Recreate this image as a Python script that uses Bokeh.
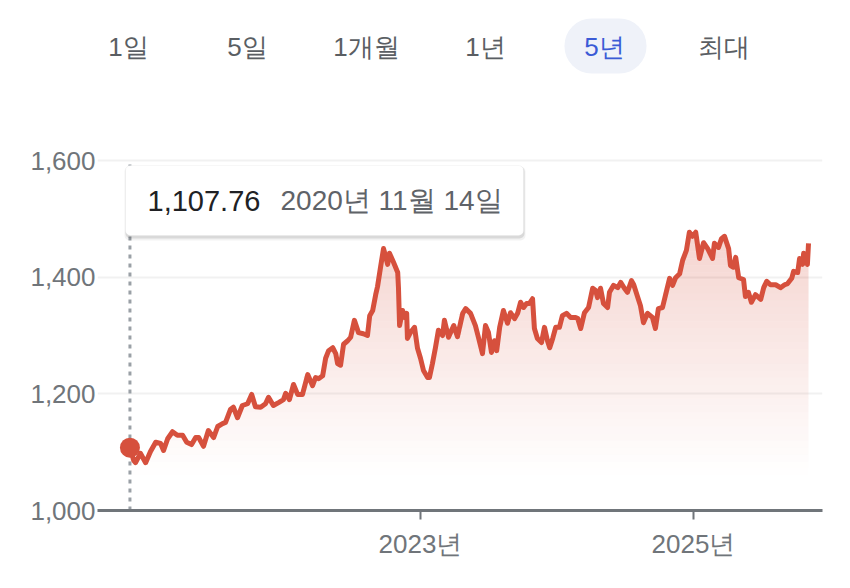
import numpy as np
import pandas as pd
from bokeh.plotting import figure
from bokeh.models import (Range1d, FixedTicker, NumeralTickFormatter,
                          DatetimeTickFormatter, Label, BoxAnnotation)
from bokeh.embed import file_html
from bokeh.resources import INLINE

# ---------------- data ----------------
tabs = ["1일", "5일", "1개월", "1년", "5년", "최대"]
active_tab = "5년"
y_ticks = [1000, 1200, 1400, 1600]
x_tick_dates = ["2023-01-01", "2025-01-01"]

d2020 = ["2020-11-14", "2020-11-24", "2020-11-29", "2020-12-12", "2020-12-26"]
v2020 = [1107.76, 1086, 1082, 1098, 1082]

d2021 = ["2021-01-08", "2021-01-22", "2021-02-04", "2021-02-12", "2021-02-23",
         "2021-03-08", "2021-03-21", "2021-04-04", "2021-04-15", "2021-04-28",
         "2021-05-09", "2021-05-17", "2021-05-30", "2021-06-12", "2021-06-26",
         "2021-07-07", "2021-07-20", "2021-07-28", "2021-08-10", "2021-08-18",
         "2021-08-29", "2021-09-11", "2021-09-25", "2021-10-06", "2021-10-16",
         "2021-10-30", "2021-11-12", "2021-11-20", "2021-12-03", "2021-12-17",
         "2021-12-30"]
v2021 = [1101, 1117, 1115, 1103, 1123,
         1135, 1129, 1129, 1117, 1113,
         1125, 1125, 1110, 1137, 1125,
         1144, 1149, 1151, 1173, 1177,
         1159, 1180, 1183, 1199, 1178,
         1177, 1183, 1194, 1180, 1185,
         1190]

d2022 = ["2022-01-05", "2022-01-15", "2022-01-26", "2022-02-06", "2022-02-19",
         "2022-03-05", "2022-03-18", "2022-03-26", "2022-04-03", "2022-04-14",
         "2022-04-22", "2022-04-30", "2022-05-11", "2022-05-19", "2022-05-24",
         "2022-06-01", "2022-06-09", "2022-06-20", "2022-06-28", "2022-07-08",
         "2022-07-19", "2022-08-01", "2022-08-12", "2022-08-18", "2022-08-26",
         "2022-09-03", "2022-09-08", "2022-09-16", "2022-09-24", "2022-10-05",
         "2022-10-10", "2022-10-21", "2022-11-01", "2022-11-03", "2022-11-06",
         "2022-11-14", "2022-11-19", "2022-11-25", "2022-11-27", "2022-12-05",
         "2022-12-16", "2022-12-24"]
v2022 = [1201, 1190, 1216, 1199, 1199,
         1233, 1214, 1228, 1226, 1231,
         1261, 1274, 1279, 1269, 1252,
         1249, 1285, 1291, 1297, 1326,
         1305, 1303, 1300, 1334, 1343,
         1370, 1384, 1417, 1449, 1422,
         1441, 1425, 1408, 1382, 1317,
         1343, 1331, 1338, 1295, 1305,
         1314, 1278]

d2023 = ["2023-01-01", "2023-01-09", "2023-01-20", "2023-01-25", "2023-02-02",
         "2023-02-10", "2023-02-18", "2023-03-01", "2023-03-06", "2023-03-17",
         "2023-03-31", "2023-04-10", "2023-04-24", "2023-05-02", "2023-05-15",
         "2023-05-28", "2023-06-05", "2023-06-16", "2023-06-24", "2023-07-02",
         "2023-07-10", "2023-07-18", "2023-07-24", "2023-08-01", "2023-08-11",
         "2023-08-22", "2023-08-30", "2023-09-10", "2023-09-18", "2023-09-26",
         "2023-10-04", "2023-10-12", "2023-10-20", "2023-10-28", "2023-11-02",
         "2023-11-10", "2023-11-21", "2023-11-29", "2023-12-07", "2023-12-13",
         "2023-12-21", "2023-12-29"]
v2023 = [1261, 1240, 1228, 1228, 1252,
         1279, 1309, 1300, 1326, 1297,
         1317, 1298, 1338, 1346, 1338,
         1317, 1297, 1269, 1317, 1305,
         1271, 1291, 1274, 1314, 1343,
         1321, 1339, 1329, 1338, 1357,
         1348, 1355, 1355, 1363, 1312,
         1295, 1288, 1314, 1291, 1279,
         1295, 1314]

d2024 = ["2024-01-08", "2024-01-16", "2024-01-27", "2024-02-07", "2024-02-20",
         "2024-02-26", "2024-03-05", "2024-03-15", "2024-03-26", "2024-04-06",
         "2024-04-14", "2024-04-19", "2024-04-27", "2024-05-05", "2024-05-16",
         "2024-05-21", "2024-06-01", "2024-06-12", "2024-06-20", "2024-06-30",
         "2024-07-08", "2024-07-19", "2024-07-25", "2024-08-04", "2024-08-12",
         "2024-08-20", "2024-08-31", "2024-09-13", "2024-09-21", "2024-09-29",
         "2024-10-10", "2024-10-21", "2024-10-29", "2024-11-06", "2024-11-14",
         "2024-11-25", "2024-12-03", "2024-12-13", "2024-12-21", "2024-12-29"]
v2024 = [1314, 1334, 1338, 1331, 1331,
         1329, 1312, 1339, 1348, 1381,
         1377, 1365, 1381, 1355, 1348,
         1374, 1386, 1382, 1391, 1381,
         1374, 1394, 1387, 1367, 1351,
         1322, 1338, 1331, 1312, 1346,
         1348, 1377, 1398, 1386, 1399,
         1406, 1429, 1446, 1477, 1470]

d2025 = ["2025-01-07", "2025-01-17", "2025-01-28", "2025-02-08", "2025-02-21",
         "2025-02-26", "2025-03-09", "2025-03-17", "2025-03-25", "2025-04-05",
         "2025-04-10", "2025-04-18", "2025-04-24", "2025-05-02", "2025-05-15",
         "2025-05-20", "2025-05-28", "2025-06-05", "2025-06-16", "2025-06-30",
         "2025-07-08", "2025-07-16", "2025-07-26", "2025-08-09", "2025-08-22",
         "2025-09-02", "2025-09-10", "2025-09-21", "2025-09-26", "2025-10-07",
         "2025-10-12", "2025-10-20", "2025-10-23", "2025-11-02", "2025-11-05"]
v2025 = [1477, 1432, 1459, 1449, 1432,
         1458, 1451, 1466, 1470, 1449,
         1420, 1417, 1434, 1399, 1396,
         1367, 1374, 1357, 1370, 1362,
         1382, 1393, 1387, 1387, 1382,
         1387, 1389, 1398, 1410, 1408,
         1432, 1422, 1441, 1422, 1458]

dates = pd.to_datetime(d2020 + d2021 + d2022 + d2023 + d2024 + d2025)
values = np.array(v2020 + v2021 + v2022 + v2023 + v2024 + v2025, dtype=float)

# ---------------- layout / style ----------------
RED = "#d6503d"
GRAY_TXT = "#5a5e63"
AXIS_GRAY = "#70757a"
FONT = "Liberation Sans"

W, H = 834, 572
FL, FR, FT, FB = 97, 822, 0, 510          # frame edges in px
PX_PER_UNIT = 350.0 / 600.0               # vertical scale
TICK_PX = (420, 693)                      # px of the two x ticks


def ms(d):
    return pd.Timestamp(d).value / 1e6


t_a, t_b = ms(x_tick_dates[0]), ms(x_tick_dates[1])
ms_per_px = (t_b - t_a) / (TICK_PX[1] - TICK_PX[0])
x_start = t_a - (TICK_PX[0] - FL) * ms_per_px
x_end = t_a + (FR - TICK_PX[0]) * ms_per_px
y_start = y_ticks[0]
y_end = y_ticks[0] + (FB - FT) / PX_PER_UNIT


def X(px):
    return x_start + (px - FL) * ms_per_px


def Y(py):
    return y_start + (FB - py) / PX_PER_UNIT


p = figure(width=W, height=H, x_axis_type="datetime", output_backend="svg",
           toolbar_location=None,
           x_range=Range1d(x_start, x_end), y_range=Range1d(y_start, y_end),
           min_border_left=FL, min_border_right=W - FR,
           min_border_top=FT, min_border_bottom=H - FB)
p.outline_line_color = None
p.background_fill_color = "white"
p.border_fill_color = "white"

# axes
p.xaxis.ticker = FixedTicker(ticks=[t_a, t_b])
fmt = "%Y년"
p.xaxis.formatter = DatetimeTickFormatter(
    microseconds=fmt, milliseconds=fmt, seconds=fmt, minsec=fmt, minutes=fmt,
    hourmin=fmt, hours=fmt, days=fmt, months=fmt, years=fmt)
p.xaxis.axis_line_color = AXIS_GRAY
p.xaxis.axis_line_width = 3
p.xaxis.major_tick_line_color = AXIS_GRAY
p.xaxis.major_tick_line_width = 2
p.xaxis.major_tick_in = 0
p.xaxis.major_tick_out = 9
p.xaxis.minor_tick_line_color = None
p.xaxis.major_label_standoff = 9
p.xaxis.major_label_text_font = FONT
p.xaxis.major_label_text_font_size = "26px"
p.xaxis.major_label_text_color = AXIS_GRAY

p.yaxis.ticker = FixedTicker(ticks=y_ticks)
p.yaxis.formatter = NumeralTickFormatter(format="0,0")
p.yaxis.axis_line_color = None
p.yaxis.major_tick_line_color = None
p.yaxis.minor_tick_line_color = None
p.yaxis.major_tick_out = 0
p.yaxis.major_tick_in = 0
p.yaxis.major_label_standoff = 2
p.yaxis.major_label_text_font = FONT
p.yaxis.major_label_text_font_size = "26px"
p.yaxis.major_label_text_color = AXIS_GRAY

p.xgrid.grid_line_color = None
p.ygrid.grid_line_color = "#f1f1f1"
p.ygrid.grid_line_width = 2

# gradient-like area fill: non-overlapping horizontal bands (7 px each)
BAND = 12
for lvl in np.arange(1060, 1500, BAND):
    a = 0.23 * (lvl + BAND / 2 - 1062) / (1450 - 1062)
    a = float(np.clip(a, 0.0, 0.25))
    if a <= 0:
        continue
    p.varea(x=dates, y1=lvl, y2=np.clip(values, lvl, lvl + BAND),
            fill_color=RED, fill_alpha=a)

# cursor line
p.segment(x0=[dates[0]], y0=[y_ticks[0]], x1=[dates[0]], y1=[y_ticks[-1]],
          line_color="#9aa0a6", line_width=3, line_dash="4 5")

# price line and marker
p.line(dates, values, line_color=RED, line_width=5, line_join="round")
p.scatter(x=[dates[0]], y=[values[0]], size=20, fill_color=RED, line_color=None)

# range tabs
p.add_layout(BoxAnnotation(left=X(564), right=X(646), top=Y(18), bottom=Y(73),
                           fill_color="#eff2f9", fill_alpha=1.0, line_color=None,
                           border_radius=27))
for i, t in enumerate(tabs):
    cx = 128 + 119 * i
    p.add_layout(Label(x=X(cx), y=Y(46), text=t, text_align="center",
                       text_baseline="middle", text_font=FONT,
                       text_font_size="26px",
                       text_color="#3b5bd6" if t == active_tab else GRAY_TXT))

# tooltip
for dx0, dx1, dy0, dy1, a in [(-1, 2, 1, 5, 0.05), (0, 1, 1, 3, 0.10)]:
    p.add_layout(BoxAnnotation(left=X(125 + dx0), right=X(523 + dx1),
                               top=Y(165 + dy0), bottom=Y(235 + dy1),
                               fill_color="black", fill_alpha=a, line_color=None,
                               border_radius=5))
p.add_layout(BoxAnnotation(left=X(125), right=X(523), top=Y(165), bottom=Y(235),
                           fill_color="white", fill_alpha=1.0,
                           line_color="#e6e6e6", line_width=1, border_radius=5))
d0 = dates[0]
p.add_layout(Label(x=X(147), y=Y(200), text=f"{values[0]:,.2f}",
                   text_align="left", text_baseline="middle", text_font=FONT,
                   text_font_size="29px", text_color="#202124"))
p.add_layout(Label(x=X(280), y=Y(200), text=f"{d0.year}년 {d0.month}월 {d0.day}일",
                   text_align="left", text_baseline="middle", text_font=FONT,
                   text_font_size="28px", text_color="#5f6368"))

open("out.html", "w").write(file_html(p, INLINE))
